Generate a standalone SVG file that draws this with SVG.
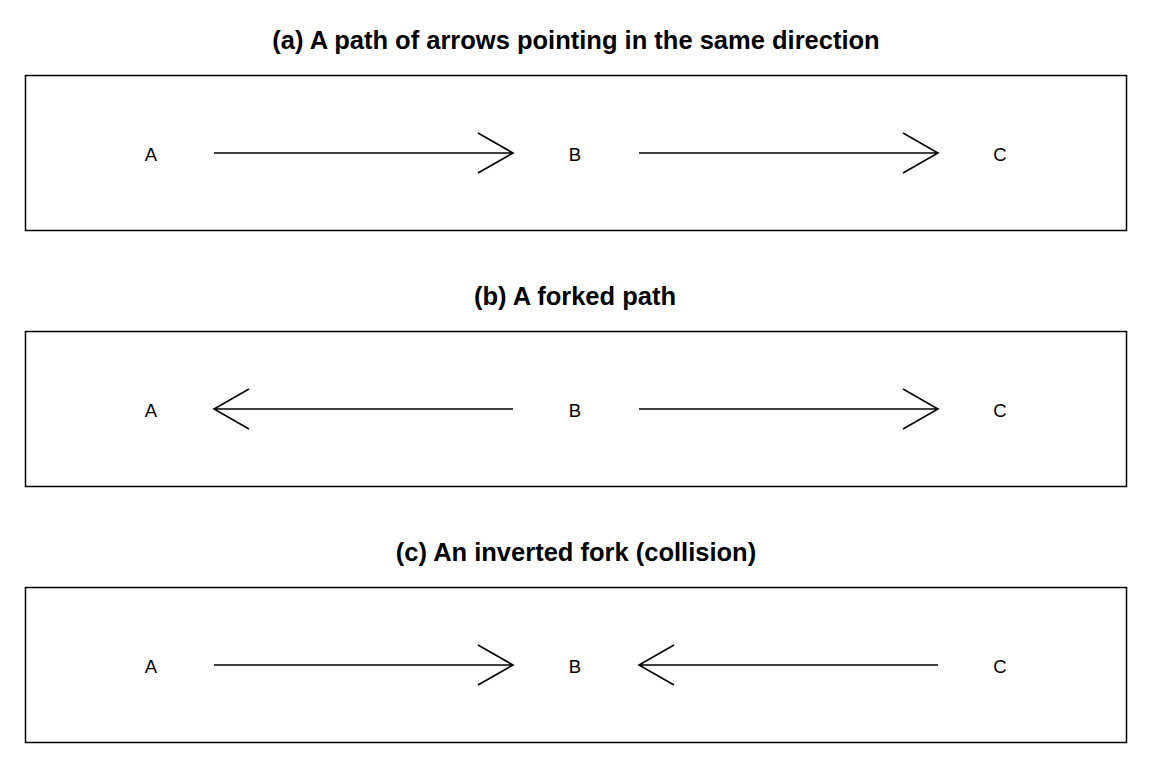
<svg xmlns="http://www.w3.org/2000/svg" width="1152" height="768" viewBox="0 0 1152 768">
<style>
.title{font-family:"Liberation Sans",Arial,sans-serif;font-weight:bold;font-size:25.5px;text-anchor:middle;fill:#000}
.lbl{font-family:"Liberation Sans",Arial,sans-serif;font-size:18.5px;text-anchor:middle;dominant-baseline:central;fill:#000}
.box{fill:#fff;stroke:#000;stroke-width:1.5}
.edge{fill:none;stroke:#000;stroke-width:1.6}
</style>
<rect width="1152" height="768" fill="#fff"/>
<g id="panel-a">
<text class="title" x="576" y="49">(a) A path of arrows pointing in the same direction</text>
<rect class="box" x="25.5" y="75.5" width="1101" height="155"/>
</g>
<g id="panel-b">
<text class="title" x="575" y="305">(b) A forked path</text>
<rect class="box" x="25.5" y="331.5" width="1101" height="155"/>
</g>
<g id="panel-c">
<text class="title" x="576" y="561">(c) An inverted fork (collision)</text>
<rect class="box" x="25.5" y="587.5" width="1101" height="155"/>
</g>
<g id="nodes">
<g id="a-A"><text class="lbl" x="151" y="154">A</text></g>
<g id="a-B"><text class="lbl" x="575" y="154">B</text></g>
<g id="a-C"><text class="lbl" x="1000" y="154">C</text></g>
<g id="b-A"><text class="lbl" x="151" y="410">A</text></g>
<g id="b-B"><text class="lbl" x="575" y="410">B</text></g>
<g id="b-C"><text class="lbl" x="1000" y="410">C</text></g>
<g id="c-A"><text class="lbl" x="151" y="666">A</text></g>
<g id="c-B"><text class="lbl" x="575" y="666">B</text></g>
<g id="c-C"><text class="lbl" x="1000" y="666">C</text></g>
</g>
<g id="connectors">
<path class="edge" d="M214 153H513M478 133L513 153L478 173"/>
<path class="edge" d="M639 153H938M903 133L938 153L903 173"/>
<path class="edge" d="M513 409H214M249 389L214 409L249 429"/>
<path class="edge" d="M639 409H938M903 389L938 409L903 429"/>
<path class="edge" d="M214 665H513M478 645L513 665L478 685"/>
<path class="edge" d="M938 665H639M674 645L639 665L674 685"/>
</g>
</svg>
